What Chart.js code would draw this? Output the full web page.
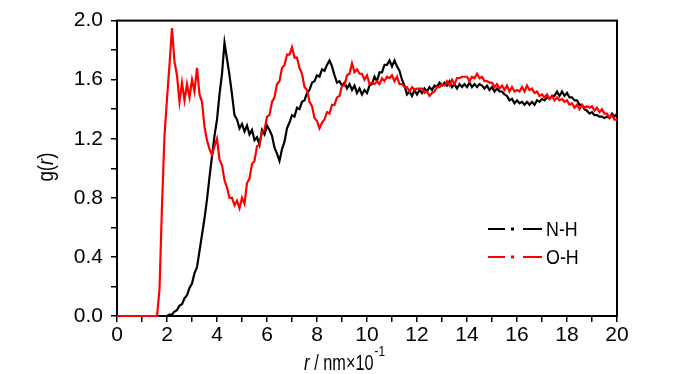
<!DOCTYPE html>
<html>
<head>
<meta charset="utf-8">
<script src="https://cdn.jsdelivr.net/npm/chart.js@4.4.1/dist/chart.umd.min.js"></script>
<style>
  html, body { margin: 0; padding: 0; background: #fff; }
  #wrap { width: 700px; height: 374px; }
</style>
</head>
<body>
<div id="wrap"><canvas id="rdf"></canvas></div>
<script>
// Radial distribution functions, sampled every 0.1 (r in nm x 10^-1)
const rStep = 0.1;

// N-H pair
const nhValues = [
  0, 0, 0, 0, 0, 0, 0, 0, 0, 0,
  0, 0, 0, 0, 0, 0, 0, 0, 0, 0,
  0.00, 0.01, 0.01, 0.03, 0.04, 0.07, 0.08, 0.12, 0.14, 0.19,
  0.22, 0.29, 0.33, 0.44, 0.55, 0.66, 0.79, 0.94, 1.08, 1.22,
  1.33, 1.50, 1.64, 1.85, 1.74, 1.63, 1.50, 1.36, 1.33, 1.27,
  1.30, 1.25, 1.29, 1.23, 1.26, 1.19, 1.21, 1.16, 1.26, 1.23,
  1.29, 1.26, 1.22, 1.14, 1.10, 1.05, 1.13, 1.18, 1.27, 1.31,
  1.36, 1.35, 1.41, 1.40, 1.45, 1.46, 1.51, 1.53, 1.58, 1.59,
  1.63, 1.62, 1.67, 1.66, 1.70, 1.73, 1.69, 1.63, 1.58, 1.59,
  1.56, 1.58, 1.54, 1.57, 1.53, 1.56, 1.51, 1.54, 1.50, 1.53,
  1.51, 1.56, 1.57, 1.62, 1.59, 1.65, 1.65, 1.70, 1.70, 1.73,
  1.69, 1.73, 1.69, 1.66, 1.60, 1.56, 1.50, 1.52, 1.49, 1.53,
  1.50, 1.53, 1.51, 1.54, 1.52, 1.55, 1.53, 1.56, 1.55, 1.58,
  1.56, 1.58, 1.56, 1.59, 1.55, 1.57, 1.54, 1.57, 1.55, 1.57,
  1.55, 1.58, 1.55, 1.57, 1.55, 1.57, 1.56, 1.54, 1.56, 1.53,
  1.55, 1.52, 1.54, 1.52, 1.52, 1.50, 1.49, 1.46, 1.47, 1.44,
  1.46, 1.44, 1.45, 1.43, 1.45, 1.43, 1.45, 1.43, 1.46, 1.45,
  1.47, 1.46, 1.48, 1.47, 1.49, 1.49, 1.52, 1.49, 1.52, 1.49,
  1.51, 1.48, 1.48, 1.46, 1.46, 1.43, 1.43, 1.40, 1.39, 1.37,
  1.38, 1.36, 1.36, 1.35, 1.35, 1.34, 1.35, 1.34, 1.37, 1.35,
  1.37
];

// O-H pair
const ohValues = [
  0, 0, 0, 0, 0, 0, 0, 0, 0, 0,
  0, 0, 0, 0, 0, 0, 0.00, 0.18, 0.75, 1.22,
  1.47, 1.70, 1.95, 1.72, 1.63, 1.45, 1.58, 1.46, 1.57, 1.48,
  1.60, 1.52, 1.68, 1.50, 1.45, 1.28, 1.19, 1.13, 1.09, 1.15,
  1.20, 1.06, 1.02, 0.92, 0.87, 0.80, 0.80, 0.75, 0.78, 0.73,
  0.80, 0.76, 0.90, 0.93, 1.03, 1.05, 1.15, 1.16, 1.25, 1.26,
  1.35, 1.36, 1.45, 1.48, 1.57, 1.59, 1.68, 1.70, 1.77, 1.77,
  1.82, 1.75, 1.75, 1.68, 1.64, 1.55, 1.53, 1.45, 1.42, 1.34,
  1.32, 1.27, 1.31, 1.33, 1.38, 1.37, 1.43, 1.43, 1.48, 1.49,
  1.56, 1.56, 1.63, 1.64, 1.71, 1.65, 1.67, 1.64, 1.64, 1.60,
  1.63, 1.57, 1.58, 1.57, 1.59, 1.57, 1.61, 1.59, 1.62, 1.61,
  1.63, 1.59, 1.62, 1.57, 1.57, 1.55, 1.55, 1.52, 1.55, 1.53,
  1.54, 1.54, 1.54, 1.51, 1.52, 1.49, 1.51, 1.52, 1.55, 1.55,
  1.57, 1.56, 1.59, 1.56, 1.60, 1.57, 1.61, 1.61, 1.62, 1.62,
  1.62, 1.59, 1.62, 1.61, 1.64, 1.61, 1.62, 1.59, 1.59, 1.58,
  1.58, 1.55, 1.57, 1.54, 1.56, 1.53, 1.56, 1.52, 1.55, 1.52,
  1.53, 1.52, 1.55, 1.52, 1.56, 1.53, 1.54, 1.51, 1.52, 1.49,
  1.50, 1.48, 1.50, 1.47, 1.49, 1.46, 1.48, 1.46, 1.47, 1.45,
  1.46, 1.43, 1.44, 1.41, 1.43, 1.40, 1.43, 1.41, 1.42, 1.41,
  1.42, 1.39, 1.41, 1.38, 1.40, 1.37, 1.37, 1.34, 1.36, 1.33,
  1.33
];

const seriesLabels = ['N-H', 'O-H'];
const seriesColors = ['#000000', '#ff0000'];
const xMajorTicks = [0, 2, 4, 6, 8, 10, 12, 14, 16, 18, 20];
const yMajorTicks = [0.0, 0.4, 0.8, 1.2, 1.6, 2.0];

const FONT_FAMILY = '"Liberation Sans", Arial, sans-serif';

function toPoints(values) {
  return values.map((v, i) => ({ x: Math.round(i * rStep * 10) / 10, y: v }));
}

// text squeezed horizontally, like the condensed lettering of the original
function squeezed(ctx, text, x, y, font, sx) {
  ctx.save();
  ctx.font = font;
  ctx.translate(x, y);
  ctx.scale(sx, 1);
  ctx.fillText(text, 0, 0);
  const w = ctx.measureText(text).width * sx;
  ctx.restore();
  return w;
}

// Frame around the plot area (drawn under the curves)
const frame = {
  id: 'frame',
  beforeDatasetsDraw(chart) {
    const { ctx, chartArea: a } = chart;
    ctx.save();
    ctx.strokeStyle = '#000';
    ctx.lineWidth = 2;
    ctx.strokeRect(a.left, a.top, a.right - a.left, a.bottom - a.top);
    ctx.restore();
  },
};

// Axis titles with italic r and superscript, plus the dash-dot legend
const decorations = {
  id: 'decorations',
  afterDraw(chart) {
    const { ctx } = chart;
    const normal = `22px ${FONT_FAMILY}`;
    const italic = `italic 22px ${FONT_FAMILY}`;
    ctx.save();
    ctx.fillStyle = '#000';
    ctx.textBaseline = 'alphabetic';

    // x title: r / nm×10^-1
    let x = 304;
    const yBase = 370;
    x += squeezed(ctx, 'r', x, yBase, italic, 0.78);
    x += squeezed(ctx, ' / nm×10', x, yBase, normal, 0.74) + 1;
    squeezed(ctx, '-1', x, yBase - 14, `14px ${FONT_FAMILY}`, 0.85);

    // y title: g(r), rotated
    ctx.save();
    ctx.translate(53, 167);
    ctx.rotate(-Math.PI / 2);
    const parts = [['g(', normal], ['r', italic], [')', normal]];
    let w = 0;
    parts.forEach(([t, f]) => { ctx.font = f; w += ctx.measureText(t).width * 0.85; });
    let px = -w / 2;
    parts.forEach(([t, f]) => { px += squeezed(ctx, t, px, 0, f, 0.85); });
    ctx.restore();

    // legend
    const rows = [229, 257];
    rows.forEach((ly, i) => {
      ctx.strokeStyle = seriesColors[i];
      ctx.fillStyle = seriesColors[i];
      ctx.lineWidth = 2;
      ctx.beginPath();
      ctx.moveTo(488, ly);
      ctx.lineTo(505, ly);
      ctx.moveTo(523, ly);
      ctx.lineTo(542, ly);
      ctx.stroke();
      ctx.fillRect(511, ly - 1.5, 3, 3);
      ctx.fillStyle = '#000';
      ctx.textBaseline = 'middle';
      squeezed(ctx, seriesLabels[i], 546, ly + 1, `21px ${FONT_FAMILY}`, 0.85);
    });
    ctx.restore();
  },
};

new Chart(document.getElementById('rdf'), {
  type: 'line',
  data: {
    datasets: [
      {
        label: seriesLabels[1],
        data: toPoints(ohValues),
        borderColor: seriesColors[1],
        borderWidth: 2.2,
        pointRadius: 0,
        tension: 0,
        clip: false,
      },
      {
        label: seriesLabels[0],
        data: toPoints(nhValues),
        borderColor: seriesColors[0],
        borderWidth: 2.2,
        pointRadius: 0,
        tension: 0,
        clip: false,
      },
    ],
  },
  options: {
    responsive: true,
    maintainAspectRatio: false,
    animation: false,
    layout: { padding: { top: 16, right: 83, bottom: 0, left: 0 } },
    plugins: {
      legend: { display: false },
      tooltip: { enabled: false },
    },
    scales: {
      x: {
        type: 'linear',
        min: 0,
        max: 20,
        afterFit: (s) => { s.height = 58; },
        border: { display: true, color: '#000', width: 2 },
        grid: { drawOnChartArea: false, drawTicks: true, tickLength: 6, color: '#000', lineWidth: 1.5 },
        ticks: {
          stepSize: 1,
          autoSkip: false,
          maxRotation: 0,
          padding: 1,
          color: '#000',
          font: { family: FONT_FAMILY, size: 21 },
          callback: (v) => (xMajorTicks.includes(v) ? String(v) : ''),
        },
      },
      y: {
        min: 0,
        max: 2,
        afterFit: (s) => { s.width = 117; },
        border: { display: true, color: '#000', width: 2 },
        grid: { drawOnChartArea: false, drawTicks: true, tickLength: 6, color: '#000', lineWidth: 1.5 },
        ticks: {
          stepSize: 0.2,
          autoSkip: false,
          padding: 8,
          color: '#000',
          font: { family: FONT_FAMILY, size: 21 },
          callback: (v) => {
            const hit = yMajorTicks.find((t) => Math.abs(t - v) < 1e-6);
            return hit !== undefined ? hit.toFixed(1) : '';
          },
        },
      },
    },
  },
  plugins: [frame, decorations],
});
</script>
</body>
</html>
